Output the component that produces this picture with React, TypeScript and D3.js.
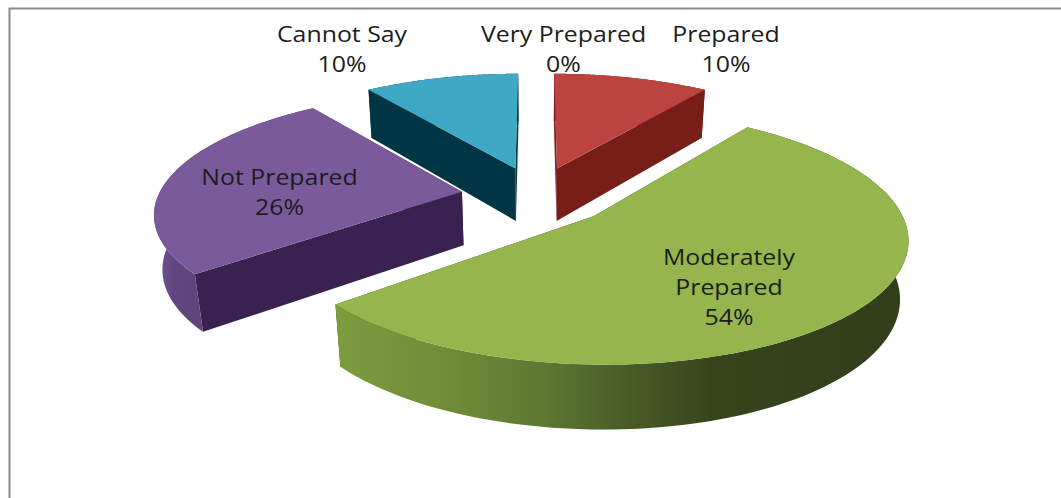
import React from "react";
import * as d3 from "d3";

// Survey responses, clockwise from twelve o'clock
const categories = ["Very Prepared", "Prepared", "Moderately Prepared", "Not Prepared", "Cannot Say"];
const shares = [0, 10, 54, 26, 10];
const labelLines = [["Very Prepared"], ["Prepared"], ["Moderately", "Prepared"], ["Not Prepared"], ["Cannot Say"]];

const topColors = ["#4f81bd", "#bb4340", "#95b64c", "#7a5a9a", "#3fa8c4"];
const cutColors = ["#254061", "#771e18", "#333f1a", "#3a2250", "#003644"];
const rimStops: [number, string][][] = [
  [[0, "#254061"], [1, "#254061"]],
  [[0, "#771e18"], [1, "#771e18"]],
  [[0, "#7d9c3e"], [0.2, "#6f8c38"], [0.36, "#5e7932"], [0.52, "#475b26"], [0.67, "#36431b"], [1, "#323e1a"]],
  [[0, "#705192"], [0.06, "#62467f"], [1, "#3a2250"]],
  [[0, "#003644"], [1, "#003644"]],
];

// Label centres and first baselines, in page pixels
const labelCentres = [[563.5, 42], [726, 42], [729, 265], [279.5, 185], [342, 42]];
const labelLeading = 30;
const labelStretch = 1.13;

// Camera for the tilted, exploded pie
const centreX = 536;
const centreY = 195.4;
const scaleX = 305;
const scaleY = 117.6;
const perspective = 0.159;
const depthShrink = 0.022;
const explode = 0.25;

// Per-slice adjustments to the sideways pull, horizontal radius and extrusion
const explodeX = [0.25, 0.231, 0.254, 0.246, 0.226];
const radiusX = [1, 0.977, 0.984, 0.995, 0.971];
const depths = [55, 55, 58, 55, 55];

function project(u: number, v: number, z: number): [number, number] {
  const w = 1 - perspective * v + depthShrink * z;
  return [centreX + (scaleX * u) / w, centreY + (scaleY * v + z) / w];
}

const pieLayout = d3.pie<number>().sort(null).startAngle(0).endAngle(2 * Math.PI);
const polygon = d3.line<[number, number]>().curve(d3.curveLinear);

export default function App() {
  const arcs = pieLayout(shares);
  // Painter's order: farthest slices first
  const order = [4, 1, 3, 2];

  return (
    <svg
      width={1061}
      height={498}
      viewBox="0 0 1061 498"
      style={{ position: "absolute", left: 0, top: 0, background: "#fff" }}
    >
      <defs>
        {rimStops.map((stops, i) => (
          <linearGradient
            key={i}
            id={`rim-${i}`}
            gradientUnits="userSpaceOnUse"
            x1={i === 3 ? 157 : 335}
            x2={i === 3 ? 465 : 907}
            y1={0}
            y2={0}
          >
            {stops.map(([o, c]) => (
              <stop key={o} offset={o} stopColor={c} />
            ))}
          </linearGradient>
        ))}
      </defs>

      <path d="M1061 8.5H9.5V498" fill="none" stroke="#8a8a8a" strokeWidth={2} />

      {order.map((i) => {
        const a = arcs[i];
        const mid = (a.startAngle + a.endAngle) / 2;
        const ou = explodeX[i] * Math.sin(mid);
        const ov = -explode * Math.cos(mid);
        // z runs 0 at the top face to 1 at the underside; project() takes it in pixels below
        const point = (u: number, v: number, z: number): [number, number] => {
          const [x, y] = project(u, v, z);
          const w = 1 - perspective * v + depthShrink * z;
          return [x, y + (z * (depths[i] - 1)) / w];
        };
        const rimPoint = (t: number, z: number) =>
          point(ou + radiusX[i] * Math.sin(t), ov - Math.cos(t), z);
        const thetas = d3.range(0, 121).map((t) => a.startAngle + ((a.endAngle - a.startAngle) * t) / 120);
        const rim = (z: number) => thetas.map((t) => rimPoint(t, z));
        const apex = (z: number) => point(ou, ov, z);
        const cut = (t: number) => polygon([apex(0), rimPoint(t, 0), rimPoint(t, 1), apex(1)]) + "Z";
        return (
          <g key={categories[i]}>
            <path d={cut(a.startAngle)} fill={cutColors[i]} />
            <path d={cut(a.endAngle)} fill={cutColors[i]} />
            <path d={polygon([...rim(0), ...rim(1).reverse()]) + "Z"} fill={`url(#rim-${i})`} />
            <path d={polygon([apex(0), ...rim(0)]) + "Z"} fill={topColors[i]} />
          </g>
        );
      })}

      {categories.map((name, i) => {
        const [x, y] = labelCentres[i];
        const lines = [...labelLines[i], `${shares[i]}%`];
        return (
          <text
            key={name}
            transform={`translate(${x} ${y}) scale(${labelStretch} 1)`}
            textAnchor="middle"
            fontFamily="'Open Sans', sans-serif"
            fontSize={22}
            fill="#1c1c1c"
          >
            {lines.map((line, j) => (
              <tspan key={j} x={0} y={j * labelLeading}>
                {line}
              </tspan>
            ))}
          </text>
        );
      })}
    </svg>
  );
}
